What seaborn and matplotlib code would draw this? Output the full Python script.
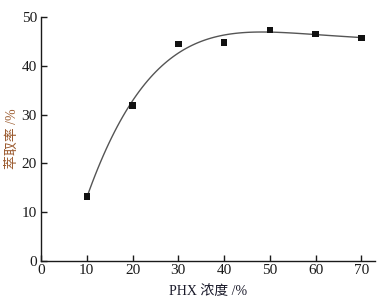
import numpy as np
import pandas as pd
import seaborn as sns
import matplotlib.pyplot as plt

sns.set_style("ticks")
plt.rcParams['font.family'] = ['Liberation Serif', 'Noto Sans CJK SC']

# PHX concentration vs extraction rate
phx_conc = [10, 20, 30, 40, 50, 60, 70]
extract_rate = [13.2, 31.8, 44.4, 44.8, 47.3, 46.5, 45.7]

df = pd.DataFrame({"conc": phx_conc, "rate": extract_rate})

fig = plt.figure(figsize=(3.87, 3.02), dpi=100)
ax = fig.add_axes([0.106, 0.136, 0.863, 0.808])

# fitted curve
sns.regplot(data=df, x="conc", y="rate", order=4, ci=None, scatter=False,
            line_kws={"color": "#555555", "lw": 1.0}, ax=ax)
sns.scatterplot(data=df, x="conc", y="rate", marker="s", color="#111111",
                s=22, edgecolor="none", ax=ax, zorder=3)

ax.set_xlim(0, 73)
ax.set_ylim(0, 50)
ax.set_xticks([0, 10, 20, 30, 40, 50, 60, 70])
ax.set_yticks([0, 10, 20, 30, 40, 50])
ax.tick_params(direction="in", length=4, width=1, labelsize=11, colors="#1a1a1a")
ax.tick_params(axis="y", pad=3)
ax.tick_params(axis="x", pad=2)
for s in ["left", "bottom"]:
    ax.spines[s].set_linewidth(1.0)
    ax.spines[s].set_color("#1a1a1a")
sns.despine(ax=ax)

ax.set_xlabel("PHX 浓度 /%", fontsize=10, color="#1a1a2a", labelpad=6)
ax.set_ylabel("萃取率 /%", fontsize=10, color="#9b5a2e", labelpad=2)

fig.savefig("out.png", dpi=100)
